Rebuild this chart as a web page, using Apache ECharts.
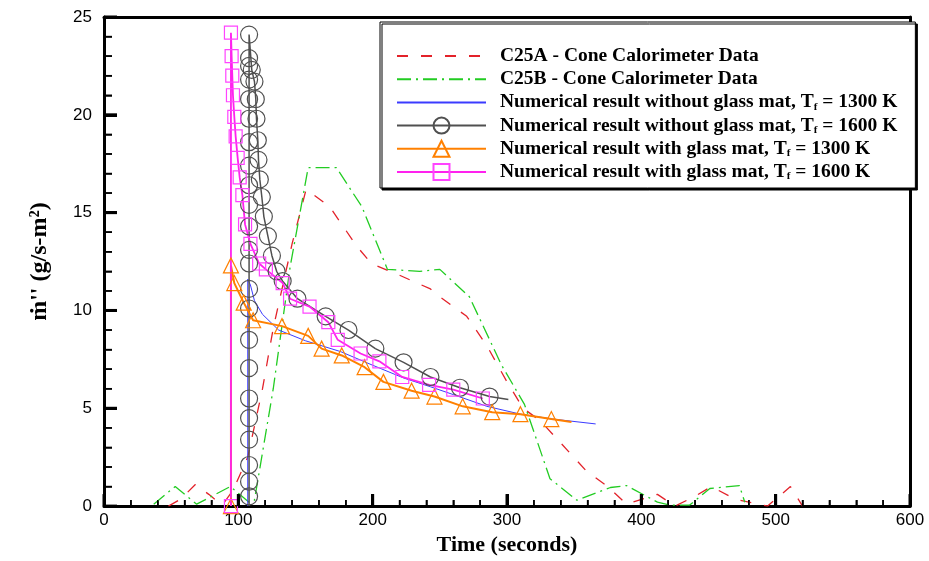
<!DOCTYPE html>
<html><head><meta charset="utf-8">
<script src="https://cdn.jsdelivr.net/npm/echarts@6/dist/echarts.min.js"></script>
<style>html,body{margin:0;padding:0;background:#fff}#c{width:929px;height:561px}
#err{position:absolute;left:110px;top:430px;font:11px monospace;color:#c00;white-space:pre;max-width:800px}</style>
</head><body><div id="c"></div><div id="err"></div>
<script>
const errBox = document.getElementById('err');
window.onerror = function (m, s, l, c, e) { errBox.textContent += 'ERR: ' + m + ' @' + l + ':' + c + '\n' + (e && e.stack ? e.stack.slice(0, 300) : '') + '\n'; };

// ---- data (time in s, mass loss rate in g/s-m^2) ----
const seriesNames = [
  'C25A - Cone Calorimeter Data',
  'C25B - Cone Calorimeter Data',
  'Numerical result without glass mat, T_f = 1300 K',
  'Numerical result without glass mat, T_f = 1600 K',
  'Numerical result with glass mat, T_f = 1300 K',
  'Numerical result with glass mat, T_f = 1600 K'
];
const xTickValues = [0, 100, 200, 300, 400, 500, 600];
const yTickValues = [0, 5, 10, 15, 20, 25];
const xMinorStep = 20;
const yMinorStep = 1;

const c25a = [[48,0],[57,0.35],[68,1.1],[78,0.6],[88,0.05],[96,0.8],[107,2.5],[118,6.0],[126,9.1],[140,13.4],[150.5,16.2],[168,15.3],[188,13.3],[199,12.4],[220,11.8],[243,11.1],[250,10.7],[270,9.7],[285,8.2],[300,6.35],[312,5.0],[325,4.35],[339,3.3],[359,1.8],[375,1.0],[389,0.1],[412,0.6],[425,0],[440,0.5],[452,1.0],[470,0.35],[494,0],[511,1.0],[520,0]];
const c25b = [[37,0.1],[53,1.0],[69,0.1],[94,1.0],[108,0.2],[112,0.3],[126,6.0],[138.5,12.2],[152,17.3],[173,17.3],[192,15.3],[211,12.1],[235,12.0],[250,12.1],[272,10.7],[296,7.2],[313,5.2],[332,1.4],[352,0.3],[377,0.95],[389,1.05],[412,0.2],[421,0.05],[436,0.05],[451,0.9],[473,1.05],[477,0.2]];
const noMat1300 = [[107,0],[107,11.6],[109,11.3],[112,10.5],[118,9.8],[130,9.0],[150,8.45],[176,7.9],[200,7.2],[223,6.55],[243,6.1],[260,5.7],[285,5.1],[310,4.7],[334,4.45],[366,4.2]];
const noMat1600 = [[108,0.5],[108,1.25],[108,2.1],[108,3.4],[108,4.5],[108,5.5],[108,7.05],[108,8.5],[108,10.1],[108,11.1],[108,12.4],[108,13.1],[108,14.3],[108,15.4],[108,16.4],[108,17.4],[108,18.6],[108,19.8],[108,20.8],[108,21.8],[108,22.5],[108,22.9],[108,24.1],[110,22.3],[112,21.7],[113,20.8],[113.5,19.8],[114.5,18.7],[115,17.7],[116,16.7],[117.5,15.8],[119,14.8],[122,13.8],[125,12.8],[128.5,12.0],[133,11.5],[144,10.6],[165,9.7],[182,9.0],[202,8.05],[223,7.35],[243,6.6],[265,6.05],[287,5.6]];
const noMat1600Ends = [[108,0],[301,5.45]];
const mat1300 = [[94.5,0],[94.5,12.3],[97,11.4],[104,10.4],[111,9.5],[132.5,9.2],[152,8.7],[162,8.05],[177,7.7],[194,7.1],[208,6.35],[229,5.9],[246,5.6],[267,5.1],[289,4.8],[310,4.7],[333,4.45]];
const mat1300End = [348,4.3];
const mat1600 = [[94.5,0],[94.5,24.2],[95,23.0],[95.5,22.0],[96,21.0],[97,19.9],[98,18.9],[99.5,17.8],[101,16.8],[103,15.9],[105,14.4],[109,13.4],[115.5,12.4],[120.5,12.1],[133,11.4],[138.5,10.6],[153,10.2],[167,9.4],[174,8.5],[191,7.8],[205,7.4],[222,6.6],[242,6.2],[260,5.95],[282,5.5]];

// ---- build ----
const noMark = p => ({ value: p, symbol: 'none' });
const grayData = [noMark(noMat1600Ends[0])].concat(noMat1600, [noMark(noMat1600Ends[1])]);
const orangeData = mat1300.concat([noMark(mat1300End)]);

const serif = 'Liberation Serif';
const sans = 'Liberation Sans';
const hollow = c => ({ color: 'rgba(0,0,0,0)', borderColor: c, borderWidth: 1.2 });
const noIcon = { color: 'rgba(0,0,0,0)', borderWidth: 0 };
const xMin = xTickValues[0], xMax = xTickValues[xTickValues.length - 1];
const yMin = yTickValues[0], yMax = yTickValues[yTickValues.length - 1];

// tick marks (kind: 0 x-major, 1 x-minor, 2 y-major, 3 y-minor)
const tickItems = [];
xTickValues.forEach(v => tickItems.push([v, 0]));
for (let v = xMin + xMinorStep; v < xMax; v += xMinorStep) if (v % 100 !== 0) tickItems.push([v, 1]);
yTickValues.forEach(v => tickItems.push([v, 2]));
for (let v = yMin + yMinorStep; v < yMax; v += yMinorStep) if (v % 5 !== 0) tickItems.push([v, 3]);
const tickLen = [12, 6, 13, 8], tickW = [3, 1.5, 3, 1.5];

const chart = echarts.init(document.getElementById('c'), null, { renderer: 'canvas' });
const frame = (extra) => Object.assign({
  axisLine: { show: true, onZero: false, lineStyle: { color: '#000', width: 3 } },
  axisTick: { show: false }, axisLabel: { show: false }, splitLine: { show: false }
}, extra);

try {
  chart.setOption({
    animation: false,
    backgroundColor: '#fff',
    grid: { left: 104, right: 19, top: 17, bottom: 48 },
    xAxis: [{
      type: 'value', min: xMin, max: xMax, interval: 100,
      name: 'Time (seconds)', nameLocation: 'middle', nameGap: 27,
      nameTextStyle: { fontFamily: serif, fontWeight: 'bold', fontSize: 22, color: '#000' },
      axisLine: { show: true, onZero: false, lineStyle: { color: '#000', width: 3 } },
      axisTick: { show: true, inside: true, length: 12, lineStyle: { color: '#000', width: 3 } },
      minorTick: { show: true, splitNumber: 5, length: 6, lineStyle: { color: '#000', width: 1.5 } },
      axisLabel: { fontFamily: sans, fontSize: 17, color: '#000', margin: 6 },
      splitLine: { show: false }
    }, frame({ type: 'value', position: 'top', min: xMin, max: xMax })],
    yAxis: [{
      type: 'value', min: yMin, max: yMax, interval: 5,
      name: "ṁ'' (g/s-m²)", nameLocation: 'middle', nameGap: 52, nameRotate: 90,
      nameTextStyle: { fontFamily: serif, fontWeight: 'bold', fontSize: 24, color: '#000' },
      axisLine: { show: true, onZero: false, lineStyle: { color: '#000', width: 3 } },
      axisTick: { show: true, inside: true, length: 13, lineStyle: { color: '#000', width: 3 } },
      minorTick: { show: true, splitNumber: 5, length: 8, lineStyle: { color: '#000', width: 1.5 } },
      axisLabel: { fontFamily: sans, fontSize: 17, color: '#000', margin: 12 },
      splitLine: { show: false }
    }, frame({ type: 'value', position: 'right', min: yMin, max: yMax })],
    legend: {
      orient: 'vertical', left: 380, top: 22,
      padding: [24, 18, 6, 16],
      itemWidth: 89, itemHeight: 20, itemGap: 3.2,
      backgroundColor: '#fff', borderColor: '#000', borderWidth: 1,
      shadowColor: '#000', shadowOffsetX: 2, shadowOffsetY: 2, shadowBlur: 0,
      selectedMode: false,
      formatter: n => n.replace('T_f', 'T{sub|f}'),
      textStyle: {
        fontFamily: serif, fontWeight: 'bold', fontSize: 19.5, color: '#000', lineHeight: 20, padding: [0, 0, 0, 9],
        rich: { sub: { fontFamily: serif, fontWeight: 'bold', fontSize: 11, color: '#000', verticalAlign: 'bottom', lineHeight: 14 } }
      },
      data: [
        { name: seriesNames[0], itemStyle: noIcon },
        { name: seriesNames[1], itemStyle: noIcon },
        { name: seriesNames[2], itemStyle: noIcon },
        { name: seriesNames[3] },
        { name: seriesNames[4] },
        { name: seriesNames[5] }
      ]
    },
    series: [
      { name: 'ticks', type: 'custom', data: tickItems, silent: true, clip: false, z: 5,
        renderItem: function (params, api) {
          const v = api.value(0), k = api.value(1);
          let s;
          if (k < 2) {
            const p = api.coord([v, yMin]);
            s = { x1: p[0], y1: p[1], x2: p[0], y2: p[1] - tickLen[k] };
          } else {
            const p = api.coord([xMin, v]);
            s = { x1: p[0], y1: p[1], x2: p[0] + tickLen[k], y2: p[1] };
          }
          return { type: 'line', shape: s, style: { stroke: '#000', lineWidth: tickW[k] } };
        } },
      { name: seriesNames[0], type: 'line', data: c25a, symbol: 'none', color: '#e3222a',
        lineStyle: { color: '#e3222a', width: 1.3, type: [11, 13] } },
      { name: seriesNames[1], type: 'line', data: c25b, symbol: 'none', color: '#22cc22',
        lineStyle: { color: '#22cc22', width: 1.3, type: [14, 5, 2, 5] } },
      { name: seriesNames[2], type: 'line', data: noMat1300, symbol: 'none', color: '#3b3bff',
        lineStyle: { color: '#3b3bff', width: 1 } },
      { name: seriesNames[3], type: 'line', data: grayData, symbol: 'circle', symbolSize: 17, color: '#505050',
        lineStyle: { color: '#505050', width: 1.5 }, itemStyle: hollow('#505050') },
      { name: seriesNames[4], type: 'line', data: orangeData, symbol: 'triangle', symbolSize: 15, color: '#ff8000',
        lineStyle: { color: '#ff8000', width: 2 }, itemStyle: hollow('#ff8000') },
      { name: seriesNames[5], type: 'line', data: mat1600, symbol: 'rect', symbolSize: 13, color: '#ff22ff',
        lineStyle: { color: '#ff22ee', width: 1.8 }, itemStyle: hollow('#ff44ff') }
    ]
  });
} catch (e) {
  errBox.textContent += 'CATCH: ' + e.message + '\n' + (e.stack || '').slice(0, 400);
}
</script></body></html>
